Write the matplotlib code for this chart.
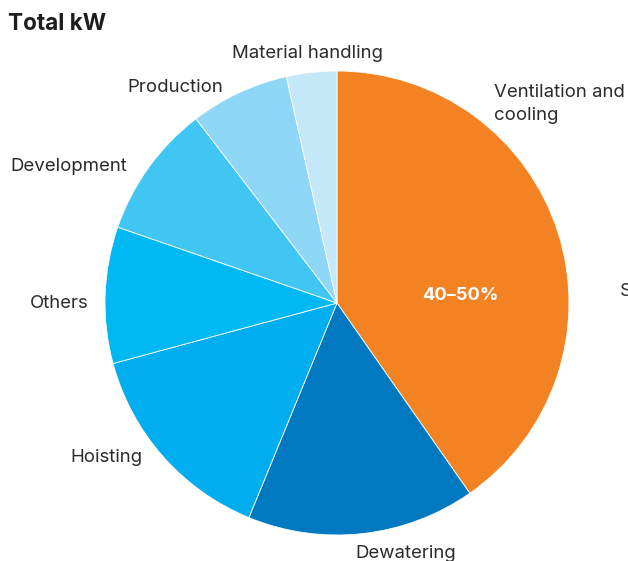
import matplotlib.pyplot as plt

# slice shares (clockwise from 12 o'clock)
categories = ["Ventilation and\ncooling", "Dewatering", "Hoisting", "Others",
              "Development", "Production", "Material handling"]
shares = [40.3, 15.9, 14.6, 9.5, 9.3, 6.9, 3.5]
colors = ["#F38322", "#0079C1", "#00ADEE", "#00B9F2", "#41C6F4", "#8FD7F6", "#C5E8F9"]

# label anchors in pixels (left x, centre y)
label_pos = [(494, 104), (355, 554), (70, 458), (30, 304),
             (10, 167), (127, 88), (232, 53)]

W, H = 628, 561
plt.rcParams['font.family'] = ['Inter', 'DejaVu Sans']

fig = plt.figure(figsize=(W / 100, H / 100), dpi=100)

cx, cy, r = 337, 303, 232
ax = fig.add_axes([(cx - r) / W, (H - cy - r) / H, 2 * r / W, 2 * r / H])
ax.pie(shares, colors=colors, startangle=90, counterclock=False,
       wedgeprops=dict(edgecolor="white", linewidth=0.6))
ax.set_aspect("equal")
ax.set_xlim(-1, 1)
ax.set_ylim(-1, 1)
ax.axis("off")

for name, (px, py) in zip(categories, label_pos):
    fig.text(px / W, 1 - py / H, name, ha="left", va="center",
             fontsize=13.4, color="#2b2b2b", linespacing=1.5)

# label cut off at the right edge, as in the source
fig.text(620 / W, 1 - 292 / H, "S", ha="left", va="center", fontsize=13.4, color="#2b2b2b")
fig.text(460 / W, 1 - 295 / H, "40\u201350%", ha="center", va="center",
         fontsize=13.2, fontweight="bold", color="white")
fig.text(8 / W, 1 - 24 / H, "Total kW", ha="left", va="center",
         fontsize=16.2, fontweight="bold", color="#1e1e1e")

fig.savefig("out.png", dpi=100)
